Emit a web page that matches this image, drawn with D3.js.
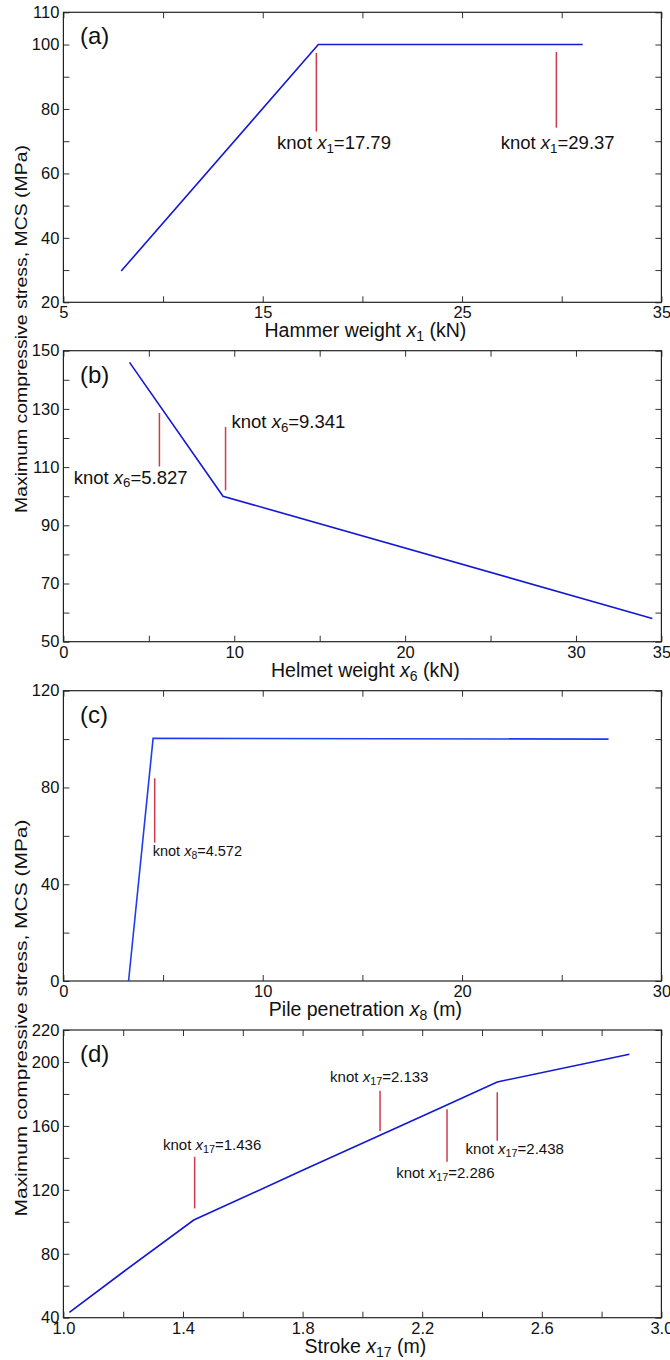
<!DOCTYPE html>
<html>
<head>
<meta charset="utf-8">
<script src="https://cdn.jsdelivr.net/npm/d3@7"></script>
<style>
  body { margin: 0; background: #fff; }
  svg { display: block; font-family: "Liberation Sans", Arial, sans-serif; }
</style>
</head>
<body>
<div id="chart"></div>
<script>
// ---- data ----
// (a) hammer weight
var hammerX = [7.9, 17.79, 31.05];
var hammerMCS = [29.7, 100, 100];
var hammerKnotX = [17.69, 29.73];
var hammerKnotLo = [73, 74.2];
var hammerKnotHi = [97.4, 97.7];
var hammerKnotText = ["17.79", "29.37"];
var hammerKnotLabelAt = [[15.72, 67.6], [26.94, 67.6]];

// (b) helmet weight
var helmetX = [3.87, 9.341, 34.47];
var helmetMCS = [146, 100, 58];
var helmetKnotX = [5.62, 9.49];
var helmetKnotLo = [110.2, 102];
var helmetKnotHi = [128.6, 123.8];
var helmetKnotText = ["5.827", "9.341"];
var helmetKnotLabelAt = [[0.6, 104.3], [9.84, 123.4]];

// (c) pile penetration
var penX = [3.27, 4.5, 27.35];
var penMCS = [0, 100.3, 100];
var penKnotX = [4.58];
var penKnotLo = [57.2];
var penKnotHi = [83.8];
var penKnotText = ["4.572"];
var penKnotLabelAt = [[4.48, 51.7]];

// (d) stroke
var strokeX = [1.02, 1.2, 1.436, 1.8, 2.133, 2.286, 2.451, 2.893];
var strokeMCS = [43.4, 68.6, 101.1, 132.2, 160.4, 173.4, 187.5, 204.8];
var strokeKnotX = [1.439, 2.059, 2.283, 2.451];
var strokeKnotLo = [108.4, 156.8, 137.6, 150.7];
var strokeKnotHi = [140.7, 182, 170.4, 181];
var strokeKnotText = ["1.436", "2.133", "2.286", "2.438"];
var strokeKnotLabelAt = [[1.333, 144.9], [1.892, 187.7], [2.113, 127.2], [2.345, 142.4]];

var yTitle = "Maximum compressive stress, MCS (MPa)";

var panels = [
  {tag: "(a)", top: 12.3, h: 290, xDom: [5, 35], yDom: [20, 110],
   xTicks: d3.range(5, 36, 5), xLab: [5, 15, 25, 35],
   yTicks: d3.range(20, 111, 10), yLab: [20, 40, 60, 80, 100, 110], fmt: d3.format("d"),
   xs: hammerX, ys: hammerMCS, kx: hammerKnotX, klo: hammerKnotLo, khi: hammerKnotHi,
   kt: hammerKnotText, kat: hammerKnotLabelAt, sub: "1", kfs: 18.5,
   title: ["Hammer weight ", "1", " (kN)"], color: "#1418d2"},
  {tag: "(b)", top: 350.7, h: 291, xDom: [0, 35], yDom: [50, 150],
   xTicks: d3.range(0, 36, 5), xLab: [0, 10, 20, 30, 35],
   yTicks: d3.range(50, 151, 10), yLab: [50, 70, 90, 110, 130, 150], fmt: d3.format("d"),
   xs: helmetX, ys: helmetMCS, kx: helmetKnotX, klo: helmetKnotLo, khi: helmetKnotHi,
   kt: helmetKnotText, kat: helmetKnotLabelAt, sub: "6", kfs: 18.5,
   title: ["Helmet weight ", "6", " (kN)"], color: "#1418d2"},
  {tag: "(c)", top: 690.7, h: 290.3, xDom: [0, 30], yDom: [0, 120],
   xTicks: d3.range(0, 31, 5), xLab: [0, 10, 20, 30],
   yTicks: d3.range(0, 121, 20), yLab: [0, 40, 80, 120], fmt: d3.format("d"),
   xs: penX, ys: penMCS, kx: penKnotX, klo: penKnotLo, khi: penKnotHi,
   kt: penKnotText, kat: penKnotLabelAt, sub: "8", kfs: 14.5,
   title: ["Pile penetration ", "8", " (m)"], color: "#1f3cf0"},
  {tag: "(d)", top: 1030, h: 287.7, xDom: [1, 3], yDom: [40, 220],
   xTicks: d3.range(0, 11).map(function(i) { return 1 + i * 0.2; }), xLab: [1, 1.4, 1.8, 2.2, 2.6, 3],
   yTicks: d3.range(40, 221, 20), yLab: [40, 80, 120, 160, 200, 220], fmt: d3.format(".1f"), yfmt: d3.format("d"),
   xs: strokeX, ys: strokeMCS, kx: strokeKnotX, klo: strokeKnotLo, khi: strokeKnotHi,
   kt: strokeKnotText, kat: strokeKnotLabelAt, sub: "17", kfs: 15,
   title: ["Stroke ", "17", " (m)"], color: "#1418d2"}
];

var W = 670, H = 1360;
var left = 63.4, right = 661.4;
var tickLen = 6;

var svg = d3.select("#chart").append("svg")
  .attr("width", W)
  .attr("height", H);

// writes "pre x_sub post" style text into a <text>
function richText(sel, pre, sub, post, fs, italicX) {
  sel.append("tspan").text(pre);
  sel.append("tspan").text("x").attr("font-style", italicX ? "italic" : "normal");
  sel.append("tspan").text(sub).attr("font-size", fs * 0.72).attr("dy", fs * 0.2);
  sel.append("tspan").text(post).attr("dy", -fs * 0.2);
}

function near(list, v) {
  return list.some(function(l) { return Math.abs(l - v) < 1e-6; });
}

panels.forEach(function(p) {
  var x = d3.scaleLinear().domain(p.xDom).range([left, right]);
  var y = d3.scaleLinear().domain(p.yDom).range([p.top + p.h, p.top]);
  var yf = p.yfmt || p.fmt;

  var g = svg.append("g");

  // bottom axis with labels
  var bx = g.append("g")
    .attr("transform", "translate(0," + (p.top + p.h) + ")")
    .call(d3.axisBottom(x).tickValues(p.xTicks).tickSizeInner(-tickLen).tickSizeOuter(0).tickPadding(3)
      .tickFormat(function(d) { return near(p.xLab, d) ? p.fmt(d) : ""; }));
  // top axis
  var tx = g.append("g")
    .attr("transform", "translate(0," + p.top + ")")
    .call(d3.axisTop(x).tickValues(p.xTicks).tickSizeInner(-tickLen).tickSizeOuter(0).tickFormat(""));
  // left axis with labels
  var ly = g.append("g")
    .attr("transform", "translate(" + left + ",0)")
    .call(d3.axisLeft(y).tickValues(p.yTicks).tickSizeInner(-tickLen).tickSizeOuter(0).tickPadding(4)
      .tickFormat(function(d) { return near(p.yLab, d) ? yf(d) : ""; }));
  // right axis
  var ry = g.append("g")
    .attr("transform", "translate(" + right + ",0)")
    .call(d3.axisRight(y).tickValues(p.yTicks).tickSizeInner(-tickLen).tickSizeOuter(0).tickFormat(""));

  [bx, tx, ly, ry].forEach(function(a) {
    a.select(".domain").remove();
    a.selectAll(".tick line").attr("stroke", "#333").attr("stroke-width", 1);
    a.selectAll(".tick text")
      .attr("font-family", "Liberation Sans, Arial, sans-serif")
      .attr("font-size", 16.5)
      .attr("fill", "#111");
  });
  bx.selectAll(".tick text").attr("dy", "0.8em");

  // box
  g.append("rect")
    .attr("x", left).attr("y", p.top)
    .attr("width", right - left).attr("height", p.h)
    .attr("fill", "none").attr("stroke", "#222").attr("stroke-width", 1.2);

  // fitted MARS line
  var pts = p.xs.map(function(d, i) { return [d, p.ys[i]]; });
  g.append("path")
    .datum(pts)
    .attr("fill", "none")
    .attr("stroke", p.color)
    .attr("stroke-width", 1.6)
    .attr("d", d3.line().x(function(d) { return x(d[0]); }).y(function(d) { return y(d[1]); }));

  // knot markers
  g.selectAll(".knot")
    .data(p.kx)
    .enter().append("line")
    .attr("class", "knot")
    .attr("x1", function(d) { return x(d); })
    .attr("x2", function(d) { return x(d); })
    .attr("y1", function(d, i) { return y(p.klo[i]); })
    .attr("y2", function(d, i) { return y(p.khi[i]); })
    .attr("stroke", "#d23a4c")
    .attr("stroke-width", 1.5);

  // knot labels
  p.kt.forEach(function(t, i) {
    var lab = g.append("text")
      .attr("x", x(p.kat[i][0]))
      .attr("y", y(p.kat[i][1]))
      .attr("font-size", p.kfs)
      .attr("fill", "#111");
    richText(lab, "knot ", p.sub, "=" + t, p.kfs, true);
  });

  // panel tag
  g.append("text")
    .attr("x", 80).attr("y", p.top + 32)
    .attr("font-size", 24)
    .attr("fill", "#111")
    .text(p.tag);

  // x title
  var xt = g.append("text")
    .attr("x", (left + right) / 2 + 3)
    .attr("y", p.top + p.h + 35)
    .attr("text-anchor", "middle")
    .attr("font-size", 19.5)
    .attr("fill", "#111");
  richText(xt, p.title[0], p.title[1], p.title[2], 19.5, true);
});

// y titles, one for each pair of panels
[[329, 368], [1018, 397]].forEach(function(c) {
  svg.append("text")
    .attr("transform", "translate(26.5," + c[0] + ") rotate(-90)")
    .attr("text-anchor", "middle")
    .attr("font-size", 17)
    .attr("fill", "#111")
    .attr("textLength", c[1])
    .attr("lengthAdjust", "spacingAndGlyphs")
    .text(yTitle);
});
</script>
</body>
</html>
